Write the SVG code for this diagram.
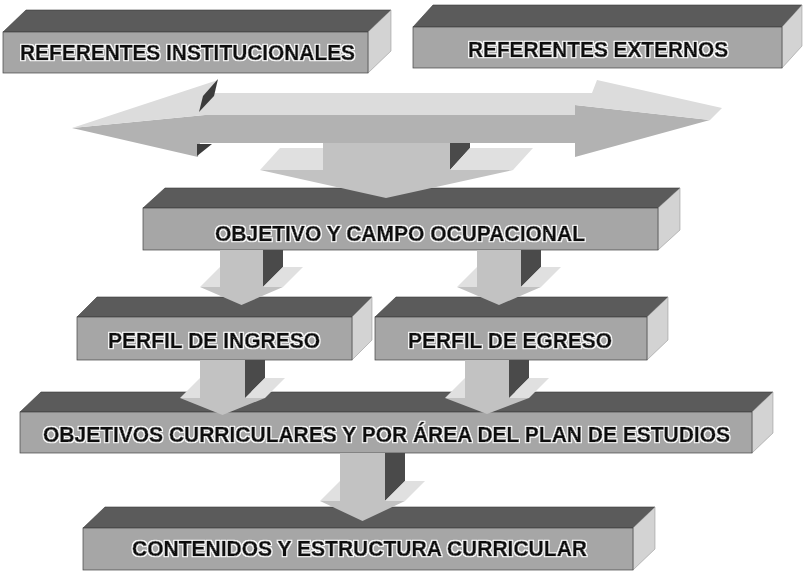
<svg xmlns="http://www.w3.org/2000/svg" width="805" height="573" viewBox="0 0 805 573">
<defs>
<filter id="halo" x="-5%" y="-30%" width="110%" height="160%">
<feMorphology in="SourceAlpha" operator="dilate" radius="1.3" result="d"/>
<feFlood flood-color="#ffffff" result="w"/>
<feComposite in="w" in2="d" operator="in" result="h"/>
<feMerge><feMergeNode in="h"/><feMergeNode in="SourceGraphic"/></feMerge>
</filter>
</defs>
<style>
.top{fill:#5b5b5b;stroke:#3a3a3a;stroke-width:0.6}
.front{fill:#a6a6a6;stroke:#444;stroke-width:0.7}
.side{fill:#d3d3d3;stroke:#888;stroke-width:0.5}
.lbl{font-family:"Liberation Sans",Arial,sans-serif;font-weight:bold;font-size:22px;fill:#0d0d0d;stroke:#0d0d0d;stroke-width:0.7;stroke-linejoin:round;filter:url(#halo)}
.afront{fill:#c2c2c2}
.aside{fill:#4a4a4a}
.abarb{fill:#e0e0e0}
.htop{fill:#dcdcdc}
.hfront{fill:#b2b2b2}
.sliver{fill:#3c3c3c}
</style>
<rect width="805" height="573" fill="#fff"/>

<g id="node-referentes-institucionales">
<polygon class="top" points="3,32 26,10 391,10 368,32"/>
<polygon class="side" points="368,32 391,10 391,51 368,73"/>
<rect class="front" x="3" y="32" width="365" height="41"/>
<text class="lbl" x="20" y="60" textLength="335" lengthAdjust="spacingAndGlyphs">REFERENTES INSTITUCIONALES</text>
</g>

<g id="node-referentes-externos">
<polygon class="top" points="413,27 433,5 802,5 782,27"/>
<polygon class="side" points="782,27 802,5 802,46 782,68"/>
<rect class="front" x="413" y="27" width="369" height="41"/>
<text class="lbl" x="468" y="57" textLength="260" lengthAdjust="spacingAndGlyphs">REFERENTES EXTERNOS</text>
</g>

<g id="node-objetivo-campo">
<polygon class="top" points="143,208 165,188 680,188 658,208"/>
<polygon class="side" points="658,208 680,188 680,230 658,250"/>
<rect class="front" x="143" y="208" width="515" height="42"/>
<text class="lbl" x="215" y="241" textLength="370" lengthAdjust="spacingAndGlyphs">OBJETIVO Y CAMPO OCUPACIONAL</text>
</g>

<g id="node-perfil-ingreso">
<polygon class="top" points="77,317 97,297 372,297 352,317"/>
<polygon class="side" points="352,317 372,297 372,340 352,360"/>
<rect class="front" x="77" y="317" width="275" height="43"/>
<text class="lbl" x="108" y="348" textLength="212" lengthAdjust="spacingAndGlyphs">PERFIL DE INGRESO</text>
</g>

<g id="node-perfil-egreso">
<polygon class="top" points="375,317 396,297 668,297 647,317"/>
<polygon class="side" points="647,317 668,297 668,340 647,360"/>
<rect class="front" x="375" y="317" width="272" height="43"/>
<text class="lbl" x="408" y="348" textLength="204" lengthAdjust="spacingAndGlyphs">PERFIL DE EGRESO</text>
</g>

<g id="node-objetivos-curriculares">
<polygon class="top" points="20,412 41,392 773,392 752,412"/>
<polygon class="side" points="752,412 773,392 773,433 752,453"/>
<rect class="front" x="20" y="412" width="732" height="41"/>
<text class="lbl" x="43" y="442" textLength="687" lengthAdjust="spacingAndGlyphs">OBJETIVOS CURRICULARES Y POR ÁREA DEL PLAN DE ESTUDIOS</text>
</g>

<g id="node-contenidos">
<polygon class="top" points="83,528 105,507 655,507 633,528"/>
<polygon class="side" points="633,528 655,507 655,549 633,570"/>
<rect class="front" x="83" y="528" width="550" height="42"/>
<text class="lbl" x="132" y="556" textLength="455" lengthAdjust="spacingAndGlyphs">CONTENIDOS Y ESTRUCTURA CURRICULAR</text>
</g>

<g id="connectors">
<g id="arrow-referentes">
<polygon class="hfront" points="72,128 205,115 575,115 575,105 710,120 575,157 575,143 200,143 198,157"/>
<polygon class="htop" points="72,128 218,80 208,93 592,93 597,80 722,108 710,120 575,105 575,115 205,115"/>
<polygon class="sliver" points="218,79 214,96 199,112 203,96"/>
<polygon class="sliver" points="197,144 212,144 197,156"/>
<polygon class="afront" points="323,143 450,143 450,170 513,170 386,198 260,170 323,170"/>
<polygon class="aside" points="450,143 470,143 470,148 450,170"/>
<polygon class="abarb" points="450,170 513,170 533,148 470,148"/>
<polygon class="abarb" points="260,170 323,170 323,148 280,148"/>
</g>
<g id="arrow-objetivo-ingreso">
<polygon class="aside" points="263,250 283,250 283,267 263,287"/>
<polygon class="abarb" points="263,287 283,287 303,267 283,267"/>
<polygon class="afront" points="220,250 263,250 263,287 283,287 241.5,305 200,287 220,287"/>
<polygon class="abarb" points="200,287 220,287 220,267"/>
</g>
<g id="arrow-objetivo-egreso">
<polygon class="aside" points="521,250 541,250 541,267 521,287"/>
<polygon class="abarb" points="521,287 541,287 561,267 541,267"/>
<polygon class="afront" points="477,250 521,250 521,287 541,287 499,305 457,287 477,287"/>
<polygon class="abarb" points="457,287 477,287 477,267"/>
</g>
<g id="arrow-ingreso-objetivos">
<polygon class="aside" points="245,360 265,360 265,378 245,398"/>
<polygon class="abarb" points="245,398 265,398 285,378 265,378"/>
<polygon class="afront" points="200,360 245,360 245,398 265,398 222.5,415 180,398 200,398"/>
<polygon class="abarb" points="180,398 200,398 200,378"/>
</g>
<g id="arrow-egreso-objetivos">
<polygon class="aside" points="509,360 529,360 529,378 509,398"/>
<polygon class="abarb" points="509,398 529,398 549,378 529,378"/>
<polygon class="afront" points="465,360 509,360 509,398 529,398 487,414 445,398 465,398"/>
<polygon class="abarb" points="445,398 465,398 465,378"/>
</g>
<g id="arrow-objetivos-contenidos">
<polygon class="aside" points="385,453 405,453 405,481 385,501"/>
<polygon class="abarb" points="385,501 405,501 425,481 405,481"/>
<polygon class="afront" points="340,453 385,453 385,501 405,501 362.5,521 320,501 340,501"/>
<polygon class="abarb" points="320,501 340,501 340,481"/>
</g>
</g>
</svg>
